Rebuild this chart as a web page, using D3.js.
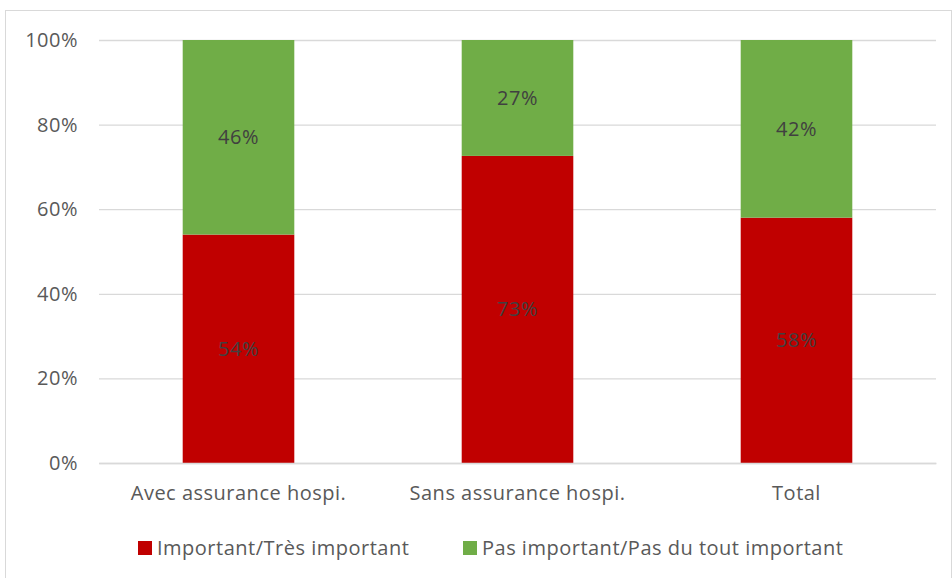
<!DOCTYPE html>
<html><head><meta charset="utf-8">
<script src="https://cdn.jsdelivr.net/npm/d3@7"></script>
<style>body{margin:0;background:#fff;}svg{display:block;}</style>
</head><body>
<svg id="c" width="952" height="578"></svg>
<script>
const categories = ["Avec assurance hospi.", "Sans assurance hospi.", "Total"];
const important = [54, 72.6, 58];
const importantLabels = ["54%", "73%", "58%"];
const notImportant = [46, 27.4, 42];
const notImportantLabels = ["46%", "27%", "42%"];
const seriesNames = ["Important/Très important", "Pas important/Pas du tout important"];
const yTicks = [0, 20, 40, 60, 80, 100];

(function () {
const colors = ["#C00000", "#70AD47"];
const font = "'Open Sans', Lato, sans-serif";
const fs = "20px";
const ls = "0.5px";
const svg = d3.select("#c");

svg.append("rect").attr("x", 5.5).attr("y", 10.5).attr("width", 946).attr("height", 580)
  .attr("fill", "#fff").attr("stroke", "#d9d9d9").attr("stroke-width", 1);

const pLeft = 99, pRight = 936, pTop = 40, pBottom = 463;
const x = d3.scaleBand().domain(categories).range([pLeft, pRight]).paddingInner(0.6).paddingOuter(0.3);
const y = d3.scaleLinear().domain([0, 100]).range([pBottom, pTop]);

const yAxis = svg.append("g").attr("transform", `translate(${pLeft},0)`)
  .call(d3.axisLeft(y).tickValues(yTicks).tickFormat(d => d + "%").tickSize(-(pRight - pLeft)).tickPadding(21));
yAxis.select(".domain").remove();
yAxis.selectAll("line").attr("stroke", "#d9d9d9").attr("stroke-width", 1.3);
yAxis.selectAll("text").attr("fill", "#595959").style("font-family", font).style("font-size", fs).style("letter-spacing", ls);

const rows = categories.map((c, i) => ({c, v: [important[i], notImportant[i]], l: [importantLabels[i], notImportantLabels[i]]}));
rows.forEach(r => {
  let base = 0;
  r.v.forEach((v, k) => {
    const y0 = y(base), y1 = y(base + v);
    svg.append("rect").attr("x", x(r.c)).attr("width", x.bandwidth())
      .attr("y", y1).attr("height", y0 - y1).attr("fill", colors[k]);
    svg.append("text").attr("x", x(r.c) + x.bandwidth() / 2).attr("y", (y0 + y1) / 2)
      .attr("dy", "0.35em").attr("text-anchor", "middle").attr("fill", "#404040")
      .style("font-family", font).style("font-size", fs).style("letter-spacing", ls).text(r.l[k]);
    base += v;
  });
});

const xAxis = svg.append("g").attr("transform", `translate(0,${pBottom})`)
  .call(d3.axisBottom(x).tickSize(0).tickPadding(23));
xAxis.select(".domain").attr("stroke", "#d9d9d9").attr("stroke-width", 1.3);
xAxis.selectAll("text").attr("fill", "#595959").style("font-family", font).style("font-size", fs).style("letter-spacing", ls);

const legendX = [138, 463];
seriesNames.forEach((n, k) => {
  svg.append("rect").attr("x", legendX[k]).attr("y", 541).attr("width", 14).attr("height", 14).attr("fill", colors[k]);
  svg.append("text").attr("x", legendX[k] + 19).attr("y", 548).attr("dy", "0.35em")
    .attr("fill", "#595959").style("font-family", font).style("font-size", fs).style("letter-spacing", ls).text(n);
});
})();
</script>
</body></html>
